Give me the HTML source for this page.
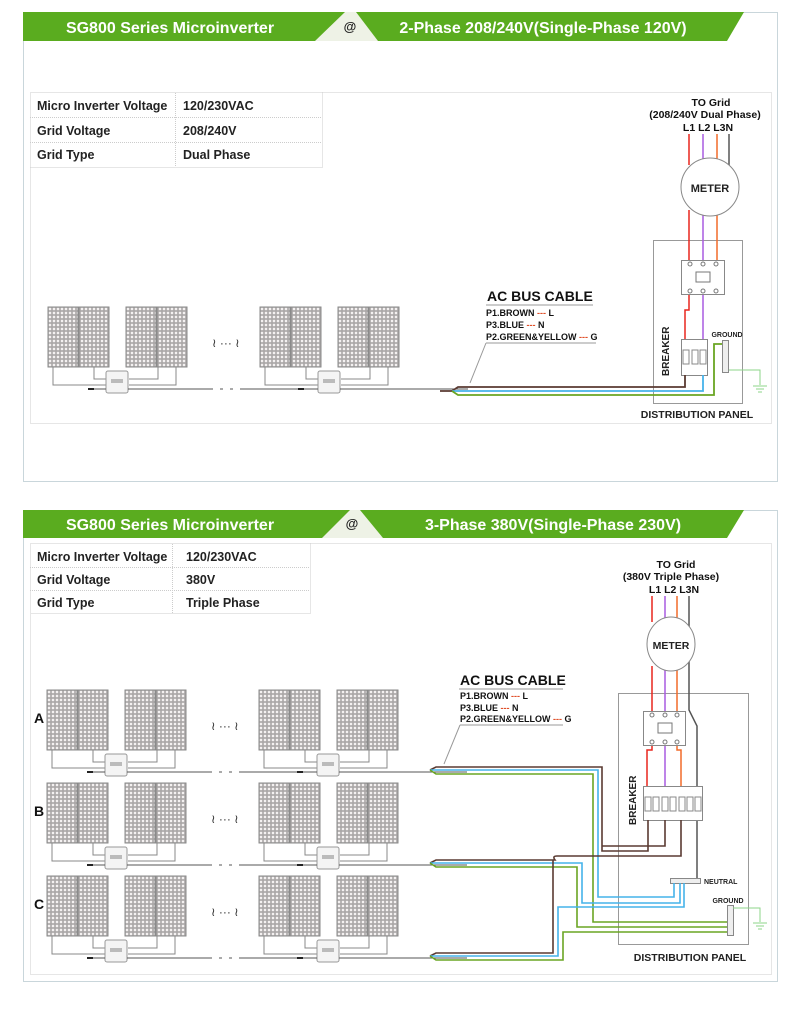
<!DOCTYPE html>
<html><head><meta charset="utf-8"><style>
html,body{margin:0;padding:0;background:#fff;}
svg{display:block;font-family:"Liberation Sans",sans-serif;}
</style></head><body>
<svg width="800" height="1015" viewBox="0 0 800 1015" xmlns="http://www.w3.org/2000/svg">
<defs>
<pattern id="cells" width="4" height="4" patternUnits="userSpaceOnUse">
<rect width="4" height="4" fill="#a9a6a6"/><rect x="0.8" y="0.8" width="2.4" height="2.4" fill="#f4f1f1"/>
</pattern>
<g id="pair">
<rect x="0" y="0" width="30" height="60" fill="url(#cells)" stroke="#8a8a8a" stroke-width="1"/>
<rect x="31" y="0" width="30" height="60" fill="url(#cells)" stroke="#8a8a8a" stroke-width="1"/>
</g>
<g id="row">
<use href="#pair" x="0" y="0"/>
<use href="#pair" x="78" y="0"/>
<use href="#pair" x="212" y="0"/>
<use href="#pair" x="290" y="0"/>
<g fill="none" stroke="#888" stroke-width="1">
<path d="M5 60 V78 H58 M46 60 V72 H58 M81 78 H128 V60 M81 72 H110 V60"/>
<path d="M217 60 V78 H270 M258 60 V72 H270 M293 78 H340 V60 M293 72 H322 V60"/>
</g>
<rect x="58" y="64" width="22" height="22" rx="2" fill="#f4f4f4" stroke="#999"/>
<rect x="270" y="64" width="22" height="22" rx="2" fill="#f4f4f4" stroke="#999"/>
<rect x="63" y="72" width="12" height="4" fill="#bbb"/>
<rect x="275" y="72" width="12" height="4" fill="#bbb"/>
<path d="M40 82 H58 M80 82 H165 M172 82 H175 M182 82 H185 M192 82 H270 M292 82 H420" stroke="#555" stroke-width="1" fill="none"/>
<rect x="40" y="81" width="6" height="2" fill="#222"/>
<rect x="250" y="81" width="6" height="2" fill="#222"/>
<text x="164" y="40" font-size="12" fill="#333">≀ ··· ≀</text>
</g>
</defs>

<!-- ============ TOP SECTION ============ -->
<rect x="23.5" y="12.5" width="754" height="469" fill="#fff" stroke="#c9d6db"/>
<polygon points="23,12 744,12 727,41 23,41" fill="#5aac1f"/>
<polygon points="315,41 345,12 356,12 378,41" fill="#eef2e6"/>
<text x="170" y="33" font-size="16" font-weight="bold" fill="#fff" text-anchor="middle">SG800 Series Microinverter</text>
<text x="350" y="31" font-size="13" font-weight="bold" fill="#222" text-anchor="middle">@</text>
<text x="543" y="33" font-size="16" font-weight="bold" fill="#fff" text-anchor="middle">2-Phase 208/240V(Single-Phase 120V)</text>
<rect x="30.5" y="92.5" width="741" height="331" fill="none" stroke="#ccc" stroke-dasharray="1,1"/>
<g stroke="#ccc" stroke-dasharray="1,1" fill="none">
<rect x="30.5" y="92.5" width="292" height="75"/>
<path d="M30 117.5 H322 M30 142.5 H322 M175.5 93 V167"/>
</g>
<g font-size="12.5" font-weight="bold" fill="#222">
<text x="37" y="110">Micro Inverter Voltage</text><text x="183" y="110">120/230VAC</text>
<text x="37" y="135">Grid  Voltage</text><text x="183" y="135">208/240V</text>
<text x="37" y="159">Grid Type</text><text x="183" y="159">Dual Phase</text>
</g>

<use href="#row" x="48" y="307"/>

<g font-weight="bold" fill="#111" text-anchor="middle">
<text x="711" y="106" font-size="10.5">TO Grid</text>
<text x="705" y="118" font-size="10.5">(208/240V Dual Phase)</text>
<text x="708" y="131" font-size="10.5">L1 L2 L3N</text>
</g>
<rect x="653.5" y="240.5" width="89" height="163" fill="none" stroke="#999"/>
<path d="M689 134 V165 M689 210 V262 M689 295 V310 H685 V339" stroke="#e8261e" stroke-width="1.5" fill="none"/>
<path d="M703 134 V160 M703 214 V262 M703 295 V339" stroke="#a95be0" stroke-width="1.5" fill="none"/>
<path d="M717 134 V162 M717 212 V262" stroke="#f26b2a" stroke-width="1.5" fill="none"/>
<path d="M729 134 V170" stroke="#555" stroke-width="1.5" fill="none"/>
<ellipse cx="710" cy="187" rx="29" ry="29" fill="#fff" stroke="#888"/>
<text x="710" y="192" font-size="11" font-weight="bold" text-anchor="middle" fill="#222">METER</text>
<rect x="681.5" y="260.5" width="43" height="34" fill="#fff" stroke="#888"/>
<g fill="#fff" stroke="#777"><circle cx="690" cy="264" r="2"/><circle cx="703" cy="264" r="2"/><circle cx="716" cy="264" r="2"/><circle cx="690" cy="291" r="2"/><circle cx="703" cy="291" r="2"/><circle cx="716" cy="291" r="2"/><rect x="696" y="272" width="14" height="10"/></g>
<rect x="681.5" y="339.5" width="26" height="36" fill="#fff" stroke="#888"/>
<g fill="#fff" stroke="#888"><rect x="683" y="350" width="6" height="14"/><rect x="692" y="350" width="6" height="14"/><rect x="700" y="350" width="6" height="14"/></g>
<rect x="722.5" y="340.5" width="6" height="32" fill="#eee" stroke="#888"/>
<text x="727" y="337" font-size="7" font-weight="bold" fill="#222" text-anchor="middle">GROUND</text>
<text transform="translate(669,376) rotate(-90)" font-size="10" font-weight="bold" fill="#222">BREAKER</text>
<text x="697" y="418" font-size="10.5" font-weight="bold" fill="#222" text-anchor="middle">DISTRIBUTION PANEL</text>
<path d="M729 370 H760 V385" stroke="#8ed48a" fill="none"/>
<path d="M753 386 H767 M756 389 H764 M758 392 H762" stroke="#8ed48a"/>
<path d="M440 391 H452 M452 391 L458 387 H685 V375" stroke="#5a3a32" stroke-width="1.8" fill="none"/>
<path d="M452 391 H703 V375" stroke="#45b3ea" stroke-width="1.8" fill="none"/>
<path d="M452 391 L458 395 H714 V344 H722" stroke="#6aa523" stroke-width="1.8" fill="none"/>
<text x="487" y="301" font-size="14" font-weight="bold" fill="#111">AC BUS CABLE</text>
<path d="M486 305 H593" stroke="#bbb" stroke-width="1.5"/>
<g font-size="9" font-weight="bold" fill="#111">
<text x="486" y="316">P1.BROWN <tspan fill="#e0502a">---</tspan> L</text>
<text x="486" y="328">P3.BLUE <tspan fill="#e0502a">---</tspan> N</text>
<text x="486" y="340">P2.GREEN&amp;YELLOW <tspan fill="#e0502a">---</tspan> G</text>
</g>
<path d="M486 343 H596 M486 343 L470 383" stroke="#999" fill="none"/>

<!-- ============ BOTTOM SECTION ============ -->
<rect x="23.5" y="510.5" width="754" height="471" fill="#fff" stroke="#c9d6db"/>
<polygon points="23,510 744,510 727,538 23,538" fill="#5aac1f"/>
<polygon points="322,538 350,510 360,510 383,538" fill="#eef2e6"/>
<text x="170" y="530" font-size="16" font-weight="bold" fill="#fff" text-anchor="middle">SG800 Series Microinverter</text>
<text x="352" y="528" font-size="13" font-weight="bold" fill="#222" text-anchor="middle">@</text>
<text x="553" y="530" font-size="16" font-weight="bold" fill="#fff" text-anchor="middle">3-Phase 380V(Single-Phase 230V)</text>
<rect x="30.5" y="543.5" width="741" height="431" fill="none" stroke="#ccc" stroke-dasharray="1,1"/>
<g stroke="#ccc" stroke-dasharray="1,1" fill="none">
<rect x="30.5" y="543.5" width="280" height="70"/>
<path d="M30 567.5 H310 M30 590.5 H310 M172.5 544 V613"/>
</g>
<g font-size="12.5" font-weight="bold" fill="#222">
<text x="37" y="561">Micro Inverter Voltage</text><text x="186" y="561">120/230VAC</text>
<text x="37" y="584">Grid  Voltage</text><text x="186" y="584">380V</text>
<text x="37" y="607">Grid Type</text><text x="186" y="607">Triple Phase</text>
</g>
<g font-size="14" font-weight="bold" fill="#111"><text x="34" y="723">A</text><text x="34" y="816">B</text><text x="34" y="909">C</text></g>
<use href="#row" x="47" y="690"/>
<use href="#row" x="47" y="783"/>
<use href="#row" x="47" y="876"/>
<g font-weight="bold" fill="#111" text-anchor="middle">
<text x="676" y="568" font-size="10.5">TO Grid</text>
<text x="671" y="580" font-size="10.5">(380V Triple Phase)</text>
<text x="674" y="593" font-size="10.5">L1 L2 L3N</text>
</g>
<rect x="618.5" y="693.5" width="130" height="251" fill="none" stroke="#999"/>
<path d="M652 596 V622 M652 666 V712 M652 745 V750 H647 V786" stroke="#e8261e" stroke-width="1.5" fill="none"/>
<path d="M665 596 V620 M665 670 V712 M665 745 V786" stroke="#a95be0" stroke-width="1.5" fill="none"/>
<path d="M677 596 V620 M677 670 V712 M677 745 V750 H681 V786" stroke="#f26b2a" stroke-width="1.5" fill="none"/>
<path d="M689 596 V710 L697 726 V878" stroke="#555" stroke-width="1.5" fill="none"/>
<ellipse cx="671" cy="644" rx="24" ry="27" fill="#fff" stroke="#888"/>
<text x="671" y="649" font-size="10.5" font-weight="bold" text-anchor="middle" fill="#222">METER</text>
<rect x="643.5" y="711.5" width="42" height="34" fill="#fff" stroke="#888"/>
<g fill="#fff" stroke="#777"><circle cx="652" cy="715" r="2"/><circle cx="665" cy="715" r="2"/><circle cx="677" cy="715" r="2"/><circle cx="652" cy="742" r="2"/><circle cx="665" cy="742" r="2"/><circle cx="677" cy="742" r="2"/><rect x="658" y="723" width="14" height="10"/></g>
<rect x="643.5" y="786.5" width="59" height="34" fill="#fff" stroke="#888"/>
<g fill="#fff" stroke="#888"><rect x="645" y="797" width="6" height="14"/><rect x="653" y="797" width="6" height="14"/><rect x="662" y="797" width="6" height="14"/><rect x="670" y="797" width="6" height="14"/><rect x="679" y="797" width="6" height="14"/><rect x="687" y="797" width="6" height="14"/><rect x="695" y="797" width="6" height="14"/></g>
<text transform="translate(636,825) rotate(-90)" font-size="10" font-weight="bold" fill="#222">BREAKER</text>
<rect x="670.5" y="878.5" width="30" height="5" fill="#eee" stroke="#888"/>
<text x="704" y="884" font-size="7" font-weight="bold" fill="#222">NEUTRAL</text>
<rect x="727.5" y="905.5" width="6" height="30" fill="#eee" stroke="#888"/>
<text x="728" y="903" font-size="7" font-weight="bold" fill="#222" text-anchor="middle">GROUND</text>
<path d="M733 908 H760 V922" stroke="#8ed48a" fill="none"/>
<path d="M753 923 H767 M756 926 H764 M758 929 H762" stroke="#8ed48a"/>
<text x="690" y="961" font-size="10.5" font-weight="bold" fill="#222" text-anchor="middle">DISTRIBUTION PANEL</text>
<g fill="none" stroke-width="1.6">
<path d="M430 770 L436 767 H602 V851 H648 V820" stroke="#5a3a32"/>
<path d="M430 770 H598 V897 H674 V883" stroke="#45b3ea"/>
<path d="M430 770 L436 774 H593 V922 H727" stroke="#6aa523"/>
<path d="M430 863 L436 860 H555 Q552 856 557 856 H681 V820" stroke="#5a3a32"/>
<path d="M430 863 H582 V903 H680 V883" stroke="#45b3ea"/>
<path d="M430 863 L436 867 H577 V927 H727" stroke="#6aa523"/>
<path d="M430 956 L436 953 H553 V860" stroke="#5a3a32"/>
<path d="M430 956 H558 V907 H684 V883" stroke="#45b3ea"/>
<path d="M430 956 L436 960 H563 V932 H727" stroke="#6aa523"/>
<path d="M665 820 V846 H602" stroke="#5a3a32"/>
</g>
<text x="460" y="685" font-size="14" font-weight="bold" fill="#111">AC BUS CABLE</text>
<path d="M459 689 H563" stroke="#bbb" stroke-width="1.5"/>
<g font-size="9" font-weight="bold" fill="#111">
<text x="460" y="699">P1.BROWN <tspan fill="#e0502a">---</tspan> L</text>
<text x="460" y="711">P3.BLUE <tspan fill="#e0502a">---</tspan> N</text>
<text x="460" y="722">P2.GREEN&amp;YELLOW <tspan fill="#e0502a">---</tspan> G</text>
</g>
<path d="M460 725 H563 M460 725 L444 764" stroke="#999" fill="none"/>
</svg>
</body></html>
